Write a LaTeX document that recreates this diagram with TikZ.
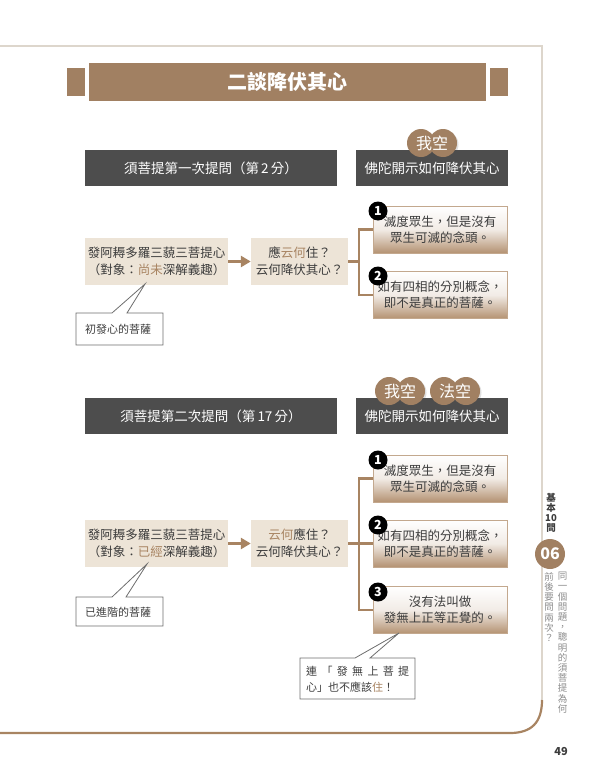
\documentclass[tikz,border=0pt]{standalone}
\usepackage{fontspec}
\setmainfont{Noto Sans CJK TC}
\usepackage{tikz}
\usetikzlibrary{arrows.meta, calc}

\begin{document}
\begin{tikzpicture}[x=1pt, y=-1pt, >={Triangle[length=10pt, width=11pt]}]
\definecolor{tanbar}{RGB}{161, 128, 98}
\definecolor{headgray}{RGB}{77, 77, 77}
\definecolor{askbeige}{RGB}{237, 228, 215}
\definecolor{ansbrown}{RGB}{180, 146, 114}
\definecolor{linkbrown}{RGB}{168, 132, 98}
\definecolor{inkgray}{RGB}{60, 60, 60}
\definecolor{framegray}{RGB}{221, 214, 204}
\definecolor{notegray}{RGB}{110, 110, 110}
\definecolor{sidegray}{RGB}{140, 140, 140}
\tikzset{
  titlebar/.style={fill=tanbar, text=white, font=\bfseries\fontsize{20}{24}\selectfont, minimum width=397pt, minimum height=38pt, inner sep=0pt},
  tabsquare/.style={fill=tanbar, minimum width=18pt, minimum height=28pt, inner sep=0pt},
  headbox/.style={fill=headgray, text=white, font=\fontsize{13.5}{16}\selectfont, minimum height=36pt, inner sep=0pt},
  askbox/.style={fill=askbeige, text=inkgray, font=\fontsize{12.5}{17}\selectfont, align=center, minimum width=143pt, minimum height=47pt, inner sep=0pt},
  howbox/.style={askbox, minimum width=97pt},
  ansbox/.style={draw=ansbrown!80, line width=0.6pt, top color=white, bottom color=ansbrown, middle color=white!82!ansbrown, text=inkgray, font=\fontsize{12.5}{16}\selectfont, align=center, minimum width=134pt, minimum height=47pt, inner sep=0pt},
  numdot/.style={circle, fill=black, text=white, font=\bfseries\fontsize{12.5}{12.5}\selectfont, minimum size=19pt, inner sep=0pt},
  bubbletext/.style={text=white, font=\fontsize{16}{16}\selectfont, inner sep=0pt},
  link/.style={linkbrown, line width=2.5pt},
  flow/.style={->, linkbrown, line width=3pt},
  callout/.style={fill=white, draw=notegray, line width=0.8pt, line join=miter},
  notetext/.style={text=inkgray, font=\fontsize{11}{16}\selectfont, align=left, inner sep=0pt},
  sidetext/.style={align=center, inner sep=0pt, font=\fontsize{9.5}{10.2}\selectfont}
}
\useasboundingbox (0,0) rectangle (600,779);
% page frame
\draw[framegray, line width=1.5pt] (0,46) -- (542,46) -- (542,700);
\draw[linkbrown, line width=2.2pt] (542,700) .. controls (542,722) and (532,733) .. (510,733) -- (0,733);
% title
\node[tabsquare] (tabl) at (76,82) {};
\node[titlebar] (title) at (287.5,82) {二談降伏其心};
\node[tabsquare] (tabr) at (499,82) {};
% bubble shadows
\foreach \bx/\by in {432/143, 400/391, 455/391} {
    \fill[black, opacity=0.12] (\bx-9.5,\by+1.5) circle (14pt) (\bx+12.5,\by+1.5) circle (14pt);
}
% First question
\node[headbox, minimum width=252pt] (head1a) at (211,168) {須菩提第一次提問（第\,2\,分）};
\node[headbox, minimum width=152pt] (head1b) at (432,168) {佛陀開示如何降伏其心};
\node[askbox] (ask1) at (156.5,261.5) {發阿耨多羅三藐三菩提心\\（對象：\textcolor{linkbrown}{尚未}深解義趣）};
\node[howbox] (how1) at (299.5,261.5) {應\textcolor{linkbrown}{云何}住？\\云何降伏其心？};
\node[ansbox] (ans1a) at (440,229.5) {滅度眾生，但是沒有\\眾生可滅的念頭。};
\node[ansbox] (ans1b) at (440,295) {如有四相的分別概念，\\即不是真正的菩薩。};
\draw[flow] (ask1) -- (how1);
\draw[link] (how1.east) -- ++(11,0) coordinate (fork1);
\draw[link] (fork1) |- (ans1a.west);
\draw[link] (fork1) |- (ans1b.west);
\node[numdot] (num1a) at (378,211) {1};
\node[numdot] (num1b) at (378,276) {2};
\draw[callout] (76,313) -- (112,313) -- (145,284) -- (127,313) -- (163,313) -- (163,345) -- (76,345) -- cycle;
\node[notetext] (note1) at (118,329) {初發心的菩薩};
% Second question
\node[headbox, minimum width=252pt] (head2a) at (211,416) {須菩提第二次提問（第\,17\,分）};
\node[headbox, minimum width=152pt] (head2b) at (432,416) {佛陀開示如何降伏其心};
\node[askbox] (ask2) at (156.5,543.5) {發阿耨多羅三藐三菩提心\\（對象：\textcolor{linkbrown}{已經}深解義趣）};
\node[howbox] (how2) at (299.5,543.5) {\textcolor{linkbrown}{云何}應住？\\云何降伏其心？};
\node[ansbox] (ans2a) at (440,478.5) {滅度眾生，但是沒有\\眾生可滅的念頭。};
\node[ansbox] (ans2b) at (440,543.5) {如有四相的分別概念，\\即不是真正的菩薩。};
\node[ansbox] (ans2c) at (440,610) {沒有法叫做\\發無上正等正覺的。};
\draw[flow] (ask2) -- (how2);
\draw[link] (how2.east) -- ++(11,0) coordinate (fork2);
\draw[link] (fork2) |- (ans2a.west);
\draw[link] (fork2) |- (ans2b.west);
\draw[link] (fork2) |- (ans2c.west);
\node[numdot] (num2a) at (378,460) {1};
\node[numdot] (num2b) at (378,525) {2};
\node[numdot] (num2c) at (378,592) {3};
\draw[callout] (76,597) -- (112,597) -- (147,564) -- (126,597) -- (163,597) -- (163,626) -- (76,626) -- cycle;
\node[notetext] (note2) at (118,612) {已進階的菩薩};
\draw[callout] (300,658) -- (355,658) -- (399,633) -- (370,658) -- (415,658) -- (415,699) -- (300,699) -- cycle;
\node[notetext, anchor=west] (note3) at (306,679) {\makebox[103pt][s]{連\hfill{}「\hfill{}發\hfill{}無\hfill{}上\hfill{}菩\hfill{}提}\\心」也不應該\textcolor{linkbrown}{住}！};
% bubbles on top
\foreach \bx/\by/\bt [count=\i] in {432/143/我空, 400/391/我空, 455/391/法空} {
    \fill[tanbar] (\bx-11,\by) circle (14pt) (\bx+11,\by) circle (14pt);
    \node[bubbletext] (bubble\i) at (\bx,\by) {\bt};
}
% side tab
\node[sidetext, text=inkgray, font=\bfseries\fontsize{9.5}{10.2}\selectfont, anchor=north] (sidetitle) at (551,493) {基\\本\\10\\問};
\node[circle, fill=tanbar, text=white, font=\bfseries\fontsize{16}{16}\selectfont, minimum size=30pt, inner sep=0pt] (tabnum) at (550,554) {06};
\node[sidetext, text=sidegray, anchor=north] (sideq1) at (562.5,572) {同\\一\\個\\問\\題\\，\\聰\\明\\的\\須\\菩\\提\\為\\何};
\node[sidetext, text=sidegray, anchor=north] (sideq2) at (549,572) {前\\後\\要\\問\\兩\\次\\？};
\node[text=inkgray, font=\bfseries\fontsize{11}{12}\selectfont, inner sep=0pt] (pagenum) at (561,751) {49};
\end{tikzpicture}
\end{document}
